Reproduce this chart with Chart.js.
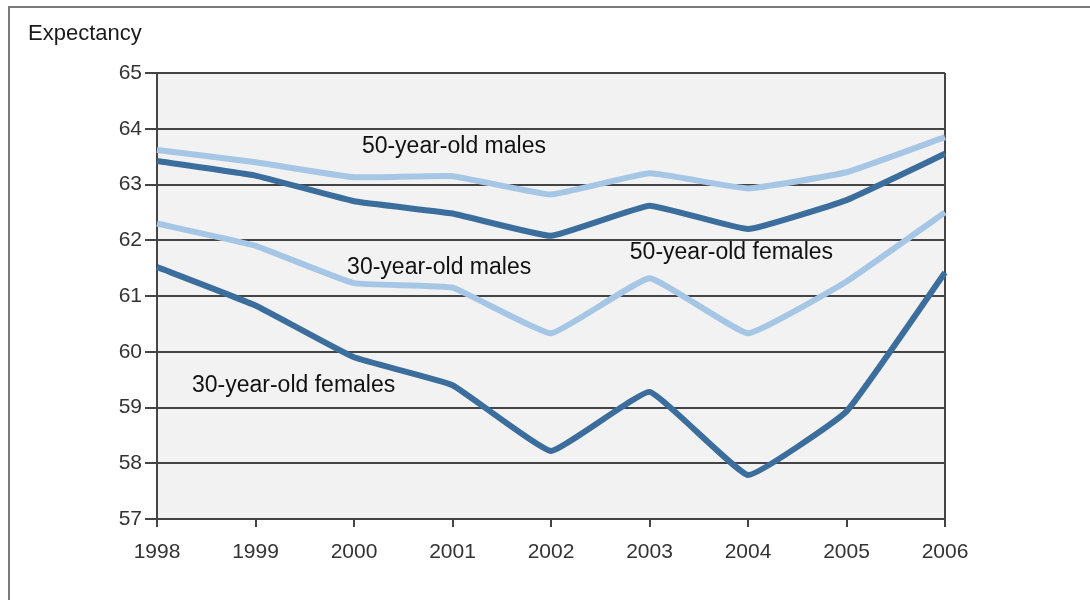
<!DOCTYPE html>
<html>
<head>
<meta charset="utf-8">
<script src="https://cdn.jsdelivr.net/npm/chart.js@4.4.1/dist/chart.umd.min.js"></script>
<style>
  html, body { margin: 0; padding: 0; background: #fff; }
  #frame { position: absolute; left: 8px; top: 6px; width: 1082px; height: 594px;
           border-top: 2px solid #7a7a7a; border-left: 2px solid #7a7a7a; box-sizing: border-box; }
  #titulo { position: absolute; left: 28px; top: 20px; font-family: "Liberation Sans Narrow", "Liberation Sans", Arial, sans-serif;
            font-size: 22px; color: #1a1a1a; }
  #wrap { position: absolute; left: 0; top: 0; width: 1090px; height: 600px; }
</style>
</head>
<body>
<div id="frame"></div>
<div id="wrap"><canvas id="grafico"></canvas></div>
<div id="titulo">Expectancy</div>
<script>
// Dados
const anos = ["1998", "1999", "2000", "2001", "2002", "2003", "2004", "2005", "2006"];
const homens50 = [63.62, 63.40, 63.13, 63.15, 62.82, 63.20, 62.93, 63.22, 63.85];
const mulheres50 = [63.42, 63.16, 62.70, 62.48, 62.08, 62.62, 62.20, 62.72, 63.55];
const homens30 = [62.30, 61.90, 61.23, 61.15, 60.33, 61.32, 60.33, 61.26, 62.50];
const mulheres30 = [61.52, 60.83, 59.90, 59.40, 58.22, 59.28, 57.79, 58.93, 61.42];
const ticksY = [57, 58, 59, 60, 61, 62, 63, 64, 65];

// rótulos dentro do gráfico: [texto, índice x (esquerda), valor y (centro)]
const rotulos = [
  ["50-year-old males", 2.08, 63.67],
  ["30-year-old males", 1.93, 61.50],
  ["50-year-old females", 4.80, 61.77],
  ["30-year-old females", 0.355, 59.39]
];

const fonte = '"Liberation Sans Narrow", "Liberation Sans", Arial, sans-serif';
const azulEscuro = "#3b6e9c";
const azulClaro = "#a6c6e6";

const fundoArea = {
  id: "fundoArea",
  beforeDraw(chart) {
    const { ctx, chartArea: a } = chart;
    ctx.save();
    ctx.fillStyle = "#f2f2f2";
    ctx.fillRect(a.left, a.top, a.right - a.left, a.bottom - a.top);
    ctx.restore();
  }
};

const textos = {
  id: "textos",
  afterDatasetsDraw(chart) {
    const { ctx, scales } = chart;
    ctx.save();
    ctx.font = "23px " + fonte;
    ctx.fillStyle = "#111";
    ctx.textAlign = "left";
    ctx.textBaseline = "middle";
    rotulos.forEach(([t, xi, yv]) => {
      ctx.fillText(t, scales.x.getPixelForValue(xi), scales.y.getPixelForValue(yv));
    });
    ctx.restore();
  }
};

function serie(dados, cor) {
  return {
    data: dados,
    borderColor: cor,
    borderWidth: 6,
    pointRadius: 0,
    tension: 0.1,
    borderJoinStyle: "round",
    fill: false
  };
}

new Chart(document.getElementById("grafico"), {
  type: "line",
  data: {
    labels: anos,
    datasets: [
      serie(homens50, azulClaro),
      serie(homens30, azulClaro),
      serie(mulheres50, azulEscuro),
      serie(mulheres30, azulEscuro)
    ]
  },
  options: {
    responsive: true,
    maintainAspectRatio: false,
    animation: false,
    layout: { padding: { top: 73, right: 145, left: 0, bottom: 0 } },
    plugins: { legend: { display: false }, tooltip: { enabled: false } },
    scales: {
      x: {
        offset: false,
        grid: {
          color: c => (c.index === 0 || c.index === anos.length - 1) ? "#444" : "transparent",
          tickColor: "#444",
          lineWidth: 2,
          tickLength: 8
        },
        border: { display: true, color: "#444", width: 2 },
        ticks: { color: "#333", font: { family: fonte, size: 21 }, padding: 13, maxRotation: 0 },
        afterFit(s) { s.height = 81; }
      },
      y: {
        min: 57,
        max: 65,
        afterBuildTicks(s) { s.ticks = ticksY.map(v => ({ value: v })); },
        grid: { color: "#444", lineWidth: 2, tickLength: 12 },
        border: { display: true, color: "#444", width: 2 },
        ticks: { color: "#333", font: { family: fonte, size: 21 }, padding: 3 },
        afterFit(s) { s.width = 157; }
      }
    }
  },
  plugins: [fundoArea, textos]
});
</script>
</body>
</html>
